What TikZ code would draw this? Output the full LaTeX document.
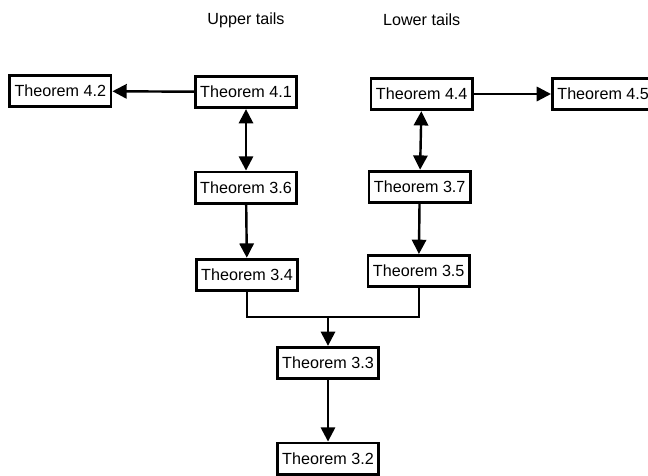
\documentclass[tikz,border=0pt]{standalone}
\usepackage{fontspec}
\setmainfont{Liberation Sans}
\usetikzlibrary{shapes,calc,positioning,arrows.meta}

\begin{document}
\begin{tikzpicture}[x=0.7pt,y=0.7pt,>={Triangle[length=10pt,width=10pt]},line width=1.7pt,
    thmbox/.style={draw,line width=2pt,minimum width=71pt,minimum height=22pt,inner sep=2pt,font=\fontsize{11.3}{13}\selectfont},
    tail/.style={font=\fontsize{11.3}{13}\selectfont}]
    \useasboundingbox (0,0) rectangle (648,476);
    \node[thmbox] (thm41) at (246,384) {Theorem 4.1};
    \node[thmbox,left of=thm41,node distance=130pt,yshift=0.7pt] (thm42) {Theorem 4.2};
    \node[thmbox,below of=thm41,node distance=67pt] (thm36) {Theorem 3.6};
    \node[thmbox,below of=thm36,node distance=61pt,xshift=0.7pt] (thm34) {Theorem 3.4};
    \node[thmbox,right of=thm41,node distance=122pt,yshift=-1.4pt,xshift=1pt] (thm44) {Theorem 4.4};
    \node[thmbox,right of=thm44,node distance=127pt] (thm45) {Theorem 4.5};
    \node[thmbox,below of=thm44,node distance=65pt,xshift=-1.4pt] (thm37) {Theorem 3.7};
    \node[thmbox,below of=thm37,node distance=59pt,xshift=-0.7pt] (thm35) {Theorem 3.5};
    \node[thmbox] (thm33) at (328,113) {Theorem 3.3};
    \node[thmbox,below of=thm33,node distance=67pt] (thm32) {Theorem 3.2};
    \node[tail,above of=thm41,node distance=50pt] (upper) {Upper tails};
    \node[tail,above of=thm44,node distance=52pt] (lower) {Lower tails};
    \coordinate (join) at ($(thm33.north)+(0,20pt)$);
    %

    \draw[->] (thm41) -- (thm42);
    \draw[->] (thm44) -- (thm45);
    \draw[<->] (thm41) -- (thm36);
    \draw[<->] (thm44) -- (thm37);
    \draw[->] (thm36) -- (thm34);
    \draw[->] (thm37) -- (thm35);
    \draw (thm34.south) |- (join) -| (thm35.south);
    \draw[->] (join) -- (thm33);
    \draw[->] (thm33) -- (thm32);
\end{tikzpicture}
\end{document}
